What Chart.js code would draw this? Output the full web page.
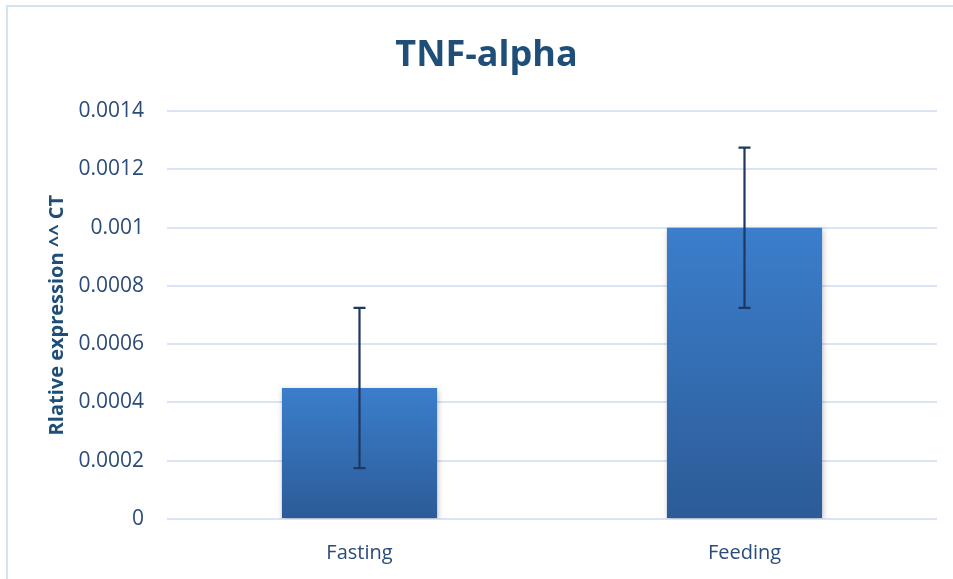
<!DOCTYPE html>
<html>
<head>
<meta charset="utf-8">
<script src="https://cdn.jsdelivr.net/npm/chart.js@4.4.1/dist/chart.umd.min.js"></script>
<style>
  html, body { margin: 0; padding: 0; background: #ffffff; }
  #wrap { width: 953px; height: 579px; position: relative; }
</style>
</head>
<body>
<div id="wrap"><canvas id="tnf"></canvas></div>
<script>
// chart data
var categories = ['Fasting', 'Feeding'];
var meanValues = [0.00045, 0.001];
var errorValues = [0.000275, 0.000275];
var yTickLabels = ['0', '0.0002', '0.0004', '0.0006', '0.0008', '0.001', '0.0012', '0.0014'];

var textBlue = '#2b4b78';
var titleBlue = '#1f4e79';

// gradient fill for each bar, lighter at its top
function barGradient(context) {
	var chart = context.chart;
	var area = chart.chartArea;
	var yScale = chart.scales.y;
	if (!area || !yScale) return '#3a7cc9';
	var top = yScale.getPixelForValue(meanValues[context.dataIndex]);
	var g = chart.ctx.createLinearGradient(0, top, 0, area.bottom);
	g.addColorStop(0, '#3b7ecc');
	g.addColorStop(1, '#2c5b97');
	return g;
}

// thin frame like the office chart border
var framePlugin = {
	id: 'frame',
	beforeDraw: function (chart) {
		var ctx = chart.ctx;
		ctx.save();
		ctx.strokeStyle = '#d5e2f2';
		ctx.lineWidth = 2;
		ctx.beginPath();
		ctx.moveTo(7, chart.height);
		ctx.lineTo(7, 6);
		ctx.lineTo(chart.width, 6);
		ctx.stroke();
		ctx.restore();
	}
};

// soft shadow under the bars
var shadowPlugin = {
	id: 'barShadow',
	beforeDatasetsDraw: function (chart) {
		var ctx = chart.ctx;
		ctx.save();
		ctx.shadowColor = 'rgba(0, 0, 0, 0.25)';
		ctx.shadowBlur = 6;
		ctx.shadowOffsetX = 1;
		ctx.shadowOffsetY = 2;
	},
	afterDatasetsDraw: function (chart) {
		chart.ctx.restore();
	}
};

// error bars, drawn from the data arrays through the scales
var errorBarPlugin = {
	id: 'errorBars',
	afterDatasetsDraw: function (chart) {
		var ctx = chart.ctx;
		var yScale = chart.scales.y;
		var meta = chart.getDatasetMeta(0);
		ctx.save();
		ctx.strokeStyle = '#1e3862';
		ctx.lineWidth = 2.2;
		meta.data.forEach(function (bar, i) {
			var x = bar.x;
			var yTop = yScale.getPixelForValue(meanValues[i] + errorValues[i]);
			var yBot = yScale.getPixelForValue(meanValues[i] - errorValues[i]);
			ctx.beginPath();
			ctx.moveTo(x, yTop);
			ctx.lineTo(x, yBot);
			ctx.moveTo(x - 6, yTop);
			ctx.lineTo(x + 6, yTop);
			ctx.moveTo(x - 6, yBot);
			ctx.lineTo(x + 6, yBot);
			ctx.stroke();
		});
		ctx.restore();
	}
};

var chartTNF = new Chart(
	document.getElementById('tnf'),
	{
		type: 'bar',
		data: {
			labels: categories,
			datasets: [
				{
					data: meanValues,
					backgroundColor: barGradient,
					borderWidth: 0,
					categoryPercentage: 1,
					barPercentage: 0.403
				}
			]
		},
		options: {
			responsive: true,
			maintainAspectRatio: false,
			animation: false,
			layout: {
				padding: { left: 20, right: 0, top: 14, bottom: 0 }
			},
			plugins: {
				legend: { display: false },
				tooltip: { enabled: false },
				title: {
					display: true,
					text: 'TNF-alpha',
					color: titleBlue,
					font: { family: 'Open Sans', size: 36, weight: 'bold' },
					padding: { top: 20, bottom: 34 }
				}
			},
			scales: {
				x: {
					grid: { display: false },
					border: { display: false },
					ticks: {
						color: textBlue,
						font: { family: 'Open Sans', size: 20 },
						padding: 14
					},
					afterFit: function (scale) { scale.height = 60; }
				},
				y: {
					min: 0,
					max: 0.0014,
					border: { display: false },
					grid: {
						color: '#d9e4f4',
						lineWidth: 2,
						drawTicks: false
					},
					ticks: {
						stepSize: 0.0002,
						color: textBlue,
						font: { family: 'Open Sans', size: 21 },
						padding: 23,
						callback: function (value, index) { return yTickLabels[index]; }
					},
					title: {
						display: true,
						text: 'Rlative expression ^^ CT',
						color: titleBlue,
						font: { family: 'Open Sans', size: 20, weight: 'bold' },
						padding: { top: 25, bottom: 0 }
					},
					afterFit: function (scale) { scale.width = 147; }
				},
				yRight: {
					position: 'right',
					display: true,
					grid: { display: false },
					border: { display: false },
					ticks: { display: false },
					afterFit: function (scale) { scale.width = 16; }
				}
			}
		},
		plugins: [framePlugin, shadowPlugin, errorBarPlugin]
	}
);
</script>
</body>
</html>
